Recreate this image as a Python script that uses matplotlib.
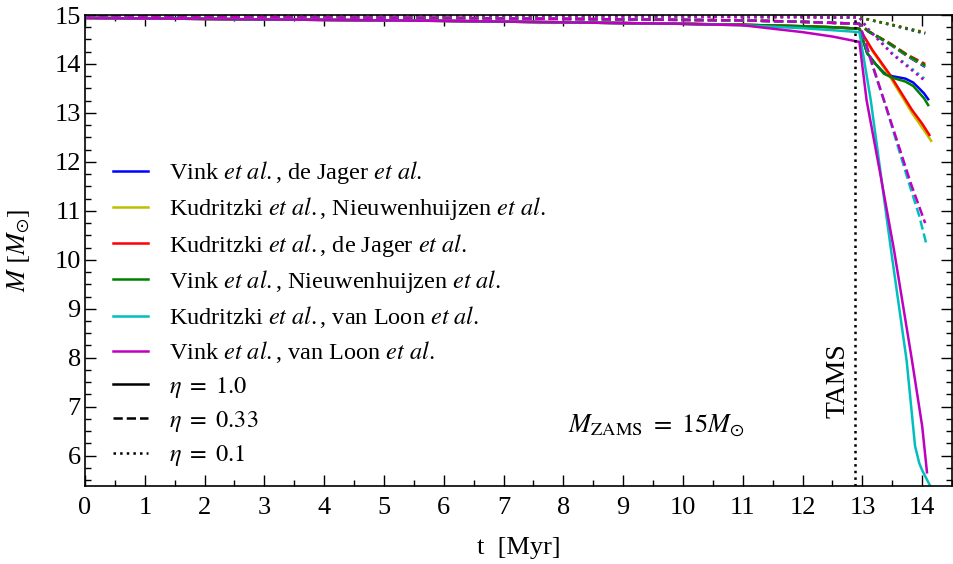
import matplotlib
matplotlib.use("Agg")
import numpy as np
from matplotlib import pyplot as plt
from matplotlib.lines import Line2D

plt.rcParams['font.family'] = ['Liberation Serif', 'DejaVu Serif']
plt.rcParams['mathtext.fontset'] = 'stix'

# main sequence part, common time grid (Myr)
t_ms = [0, 2, 4, 6, 8, 10, 11, 12, 12.5, 12.95]
ms_eta1 = [14.94, 14.92, 14.9, 14.88, 14.85, 14.82, 14.8, 14.77, 14.75, 14.72]
ms_eta1_c = [14.94, 14.92, 14.9, 14.88, 14.85, 14.82, 14.79, 14.73, 14.69, 14.65]
ms_eta1_m = [14.94, 14.92, 14.9, 14.88, 14.85, 14.82, 14.79, 14.65, 14.56, 14.45]
ms_eta033 = [14.97, 14.96, 14.95, 14.94, 14.92, 14.9, 14.89, 14.86, 14.84, 14.82]
ms_eta01 = [14.99, 14.99, 14.98, 14.98, 14.97, 14.97, 14.96, 14.96, 14.95, 14.95]

# post main sequence, eta = 1.0
t_b1 = [12.95, 13.08, 13.22, 13.36, 13.5, 13.72, 13.85, 13.95, 14.03, 14.1]
m_b1 = [14.72, 14.22, 14.0, 13.82, 13.75, 13.7, 13.62, 13.5, 13.4, 13.28]
t_g1 = [12.95, 13.08, 13.22, 13.36, 13.5, 13.72, 13.85, 13.95, 14.03, 14.1]
m_g1 = [14.72, 14.22, 14.0, 13.8, 13.72, 13.64, 13.55, 13.41, 13.3, 13.16]
t_r1 = [12.95, 13.17, 13.45, 13.83, 14.0, 14.12]
m_r1 = [14.72, 14.28, 13.8, 13.06, 12.78, 12.55]
t_y1 = [12.95, 13.17, 13.45, 13.83, 14.0, 14.15]
m_y1 = [14.72, 14.26, 13.76, 13.0, 12.7, 12.43]
t_c1 = [12.95, 13.14, 13.48, 13.74, 13.88, 13.95, 14.0, 14.13]
m_c1 = [14.65, 13.26, 10.19, 7.94, 6.2, 5.85, 5.7, 5.39]
t_m1 = [12.95, 13.07, 13.3, 13.53, 13.83, 14.0, 14.08]
m_m1 = [14.45, 13.26, 11.75, 10.19, 7.94, 6.6, 5.66]

# post main sequence, eta = 0.33
t_x033 = [12.95, 13.1, 13.45, 13.75, 14.05]
m_b033 = [14.82, 14.66, 14.41, 14.16, 13.94]
m_y033 = [14.82, 14.67, 14.42, 14.17, 13.96]
m_r033 = [14.82, 14.67, 14.43, 14.19, 14.0]
m_g033 = [14.82, 14.67, 14.42, 14.18, 13.97]
t_c033 = [12.95, 13.03, 13.17, 13.4, 13.78, 13.95, 14.07]
m_c033 = [14.82, 14.5, 13.95, 13.1, 11.56, 10.9, 10.32]
t_m033 = [12.95, 13.03, 13.17, 13.39, 13.81, 14.05]
m_m033 = [14.82, 14.53, 13.98, 13.15, 11.56, 10.75]

# post main sequence, eta = 0.1
t_x01 = [12.95, 13.5, 14.05]
m_b01 = [14.95, 14.79, 14.62]
m_y01 = [14.95, 14.8, 14.65]
m_r01 = [14.95, 14.8, 14.64]
m_g01 = [14.95, 14.8, 14.63]
t_cm01 = [12.95, 13.1, 13.5, 13.8, 14.06]
m_c01 = [14.95, 14.72, 14.22, 13.93, 13.68]
m_m01 = [14.95, 14.7, 14.2, 13.9, 13.64]

labels = [r"Vink $\mathit{et\ al.}$, de Jager $\mathit{et\ al.}$",
          r"Kudritzki $\mathit{et\ al.}$, Nieuwenhuijzen $\mathit{et\ al.}$",
          r"Kudritzki $\mathit{et\ al.}$, de Jager $\mathit{et\ al.}$",
          r"Vink $\mathit{et\ al.}$, Nieuwenhuijzen $\mathit{et\ al.}$",
          r"Kudritzki $\mathit{et\ al.}$, van Loon $\mathit{et\ al.}$",
          r"Vink $\mathit{et\ al.}$, van Loon $\mathit{et\ al.}$"]
colors = ["b", "y", "r", "g", "c", "m"]
eta_labels = [r"$\eta\ =\ 1.0$", r"$\eta\ =\ 0.33$", r"$\eta\ =\ 0.1$"]
styles = ["-", "--", ":"]

tracks = {
    "-": [(t_b1, m_b1, ms_eta1), (t_y1, m_y1, ms_eta1), (t_r1, m_r1, ms_eta1),
          (t_g1, m_g1, ms_eta1), (t_c1, m_c1, ms_eta1_c), (t_m1, m_m1, ms_eta1_m)],
    "--": [(t_x033, m_b033, ms_eta033), (t_x033, m_y033, ms_eta033), (t_x033, m_r033, ms_eta033),
           (t_x033, m_g033, ms_eta033), (t_c033, m_c033, ms_eta033), (t_m033, m_m033, ms_eta033)],
    ":": [(t_x01, m_b01, ms_eta01), (t_x01, m_y01, ms_eta01), (t_x01, m_r01, ms_eta01),
          (t_x01, m_g01, ms_eta01), (t_cm01, m_c01, ms_eta01), (t_cm01, m_m01, ms_eta01)],
}

fig = plt.figure(figsize=(9.54, 5.64), dpi=100)
ax = fig.add_axes([0.0891, 0.1383, 0.9089, 0.8351])

for ls in styles:
    for col, (tp, mp, ms) in zip(colors, tracks[ls]):
        t = list(t_ms[:-1]) + list(tp)
        m = list(ms[:-1]) + list(mp)
        ax.plot(t, m, color=col, ls=ls, lw=1.8)

ax.axvline(12.88, color="k", ls=":", lw=1.8)
ax.text(12.6, 7.54, "TAMS", rotation=90, ha="center", va="center", fontsize=20)
ax.text(9.56, 6.62, r"$M_{\rm ZAMS}\ =\ 15 M_{\odot}$", ha="center", va="center", fontsize=19)

ax.set_xlim(0, 14.5)
ax.set_ylim(5.38, 15.0)
ax.set_xticks(np.arange(0, 15, 1))
ax.set_xticks(np.arange(0, 14.6, 0.5), minor=True)
ax.set_yticks(np.arange(6, 16, 1))
ax.set_yticks(np.arange(5.5, 15.1, 0.25), minor=True)
ax.tick_params(which="both", direction="in", top=True, right=True, width=1.0)
ax.tick_params(which="major", length=8, labelsize=19)
ax.tick_params(axis="x", which="major", pad=8)
ax.tick_params(axis="y", which="major", pad=3)
ax.tick_params(which="minor", length=4)
for s in ax.spines.values():
    s.set_linewidth(1.2)

ax.set_xlabel("t  [Myr]", fontsize=19, labelpad=13)
ax.set_ylabel(r"$M\ [M_{\odot}]$", fontsize=19, labelpad=16)

handles = [Line2D([], [], color=c, lw=1.8) for c in colors]
handles += [Line2D([], [], color="k", ls=s, lw=1.8) for s in styles]
ax.legend(handles, labels + eta_labels, loc="upper left", bbox_to_anchor=(0.032, 0.694),
          frameon=False, fontsize=17.5, handlelength=1.45, handletextpad=0.85,
          labelspacing=0.38, borderpad=0, borderaxespad=0)

plt.savefig("out.png", dpi=100)
